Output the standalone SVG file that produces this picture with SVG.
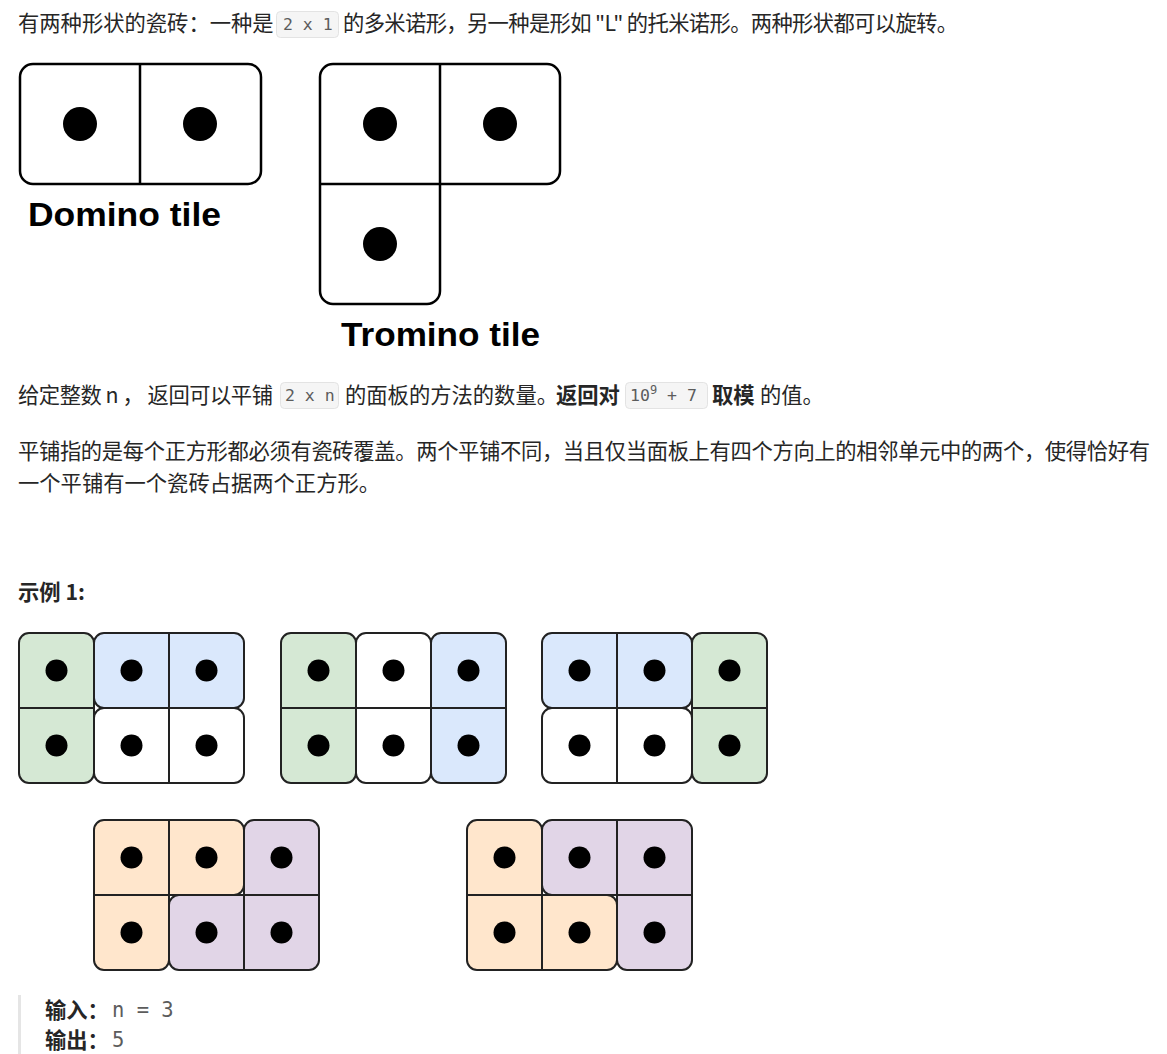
<svg xmlns="http://www.w3.org/2000/svg" width="1167" height="1054" viewBox="0 0 1167 1054">
<style>
.t{font-family:"Noto Sans CJK SC","Liberation Sans",sans-serif;font-size:21.3px;fill:#262626}
.b{font-weight:bold}
.code{font-family:"DejaVu Sans Mono","Liberation Mono",monospace;font-size:16.5px;fill:#5c5c5c}
.io{font-family:"DejaVu Sans Mono","Liberation Mono",monospace;font-size:20.5px;fill:#5c5c5c}
.cbox{fill:#f5f5f5;stroke:#e3e3e3;stroke-width:1}
.lbl{font-family:"Liberation Sans",Arial,sans-serif;font-weight:bold;font-size:33px;fill:#000}
.tile{stroke:#000;stroke-width:2.5;stroke-linejoin:round}
.ex{stroke:#222;stroke-width:2;stroke-linejoin:round}
.ln{stroke:#000;stroke-width:2.5;fill:none}
.exl{stroke:#222;stroke-width:2;fill:none}
.g{fill:#d5e8d4}.bl{fill:#dae8fc}.w{fill:#fff}.o{fill:#ffe6cc}.p{fill:#e1d5e7}
</style>
<defs>
<circle id="d" r="17" fill="#000"/>
<circle id="s" r="11" fill="#000"/>
</defs>
<rect width="1167" height="1054" fill="#fff"/>

<!-- line 1 -->
<g id="line1">
<text class="t" x="18" y="31">有两种形状的瓷砖：一种是</text>
<rect class="cbox" x="276.5" y="11.5" width="62" height="26" rx="4"/>
<text class="code" x="283" y="30">2 x 1</text>
<text class="t" x="343" y="31" textLength="615" lengthAdjust="spacing">的多米诺形，另一种是形如 "L" 的托米诺形。两种形状都可以旋转。</text>
</g>

<!-- domino -->
<g id="domino">
<rect class="tile" x="20" y="64" width="241" height="120" rx="13" fill="#fff"/>
<line class="ln" x1="140" y1="64" x2="140" y2="184"/>
<use href="#d" x="80" y="124"/>
<use href="#d" x="200" y="124"/>
<text class="lbl" x="28" y="226" textLength="193" lengthAdjust="spacingAndGlyphs">Domino tile</text>
</g>

<!-- tromino -->
<g id="tromino">
<path class="tile" fill="#fff" d="M333,64 H547 A13,13 0 0 1 560,77 V171 A13,13 0 0 1 547,184 H440 V291 A13,13 0 0 1 427,304 H333 A13,13 0 0 1 320,291 V77 A13,13 0 0 1 333,64 Z"/>
<line class="ln" x1="440" y1="64" x2="440" y2="184"/>
<line class="ln" x1="320" y1="184" x2="440" y2="184"/>
<use href="#d" x="380" y="124"/>
<use href="#d" x="500" y="124"/>
<use href="#d" x="380" y="244"/>
<text class="lbl" x="341" y="346" textLength="199" lengthAdjust="spacingAndGlyphs">Tromino tile</text>
</g>

<!-- line 2 -->
<g id="line2">
<text class="t" x="18" y="403" textLength="255" lengthAdjust="spacing">给定整数 n ， 返回可以平铺</text>
<rect class="cbox" x="280.5" y="382.5" width="58" height="26" rx="4"/>
<text class="code" x="285" y="401">2 x n</text>
<text class="t" x="345" y="403">的面板的方法的数量。</text>
<text class="t b" x="556" y="403">返回对</text>
<rect class="cbox" x="625.5" y="382.5" width="82" height="26" rx="4"/>
<text class="code" x="630" y="401">10<tspan font-size="12" dy="-7">9</tspan><tspan dy="7"> + 7</tspan></text>
<text class="t b" x="712" y="403">取模</text>
<text class="t" x="760" y="403">的值。</text>
</g>

<!-- paragraph -->
<g id="para">
<text class="t" x="18" y="459" textLength="1132" lengthAdjust="spacing">平铺指的是每个正方形都必须有瓷砖覆盖。两个平铺不同，当且仅当面板上有四个方向上的相邻单元中的两个，使得恰好有</text>
<text class="t" x="18" y="491">一个平铺有一个瓷砖占据两个正方形。</text>
</g>

<text class="t b" x="18" y="600" id="example-title">示例 1:</text>

<!-- example group 1 -->
<g id="ex1">
<rect class="ex g" x="19" y="633" width="75" height="150" rx="10"/>
<line class="exl" x1="19" y1="708" x2="94" y2="708"/>
<rect class="ex bl" x="94" y="633" width="150" height="75" rx="10"/>
<line class="exl" x1="169" y1="633" x2="169" y2="708"/>
<rect class="ex w" x="94" y="708" width="150" height="75" rx="10"/>
<line class="exl" x1="169" y1="708" x2="169" y2="783"/>
<use href="#s" x="56.5" y="670.5"/><use href="#s" x="131.5" y="670.5"/><use href="#s" x="206.5" y="670.5"/>
<use href="#s" x="56.5" y="745.5"/><use href="#s" x="131.5" y="745.5"/><use href="#s" x="206.5" y="745.5"/>
</g>

<!-- example group 2 -->
<g id="ex2">
<rect class="ex g" x="281" y="633" width="75" height="150" rx="10"/>
<line class="exl" x1="281" y1="708" x2="356" y2="708"/>
<rect class="ex w" x="356" y="633" width="75" height="150" rx="10"/>
<line class="exl" x1="356" y1="708" x2="431" y2="708"/>
<rect class="ex bl" x="431" y="633" width="75" height="150" rx="10"/>
<line class="exl" x1="431" y1="708" x2="506" y2="708"/>
<use href="#s" x="318.5" y="670.5"/><use href="#s" x="393.5" y="670.5"/><use href="#s" x="468.5" y="670.5"/>
<use href="#s" x="318.5" y="745.5"/><use href="#s" x="393.5" y="745.5"/><use href="#s" x="468.5" y="745.5"/>
</g>

<!-- example group 3 -->
<g id="ex3">
<rect class="ex bl" x="542" y="633" width="150" height="75" rx="10"/>
<line class="exl" x1="617" y1="633" x2="617" y2="708"/>
<rect class="ex w" x="542" y="708" width="150" height="75" rx="10"/>
<line class="exl" x1="617" y1="708" x2="617" y2="783"/>
<rect class="ex g" x="692" y="633" width="75" height="150" rx="10"/>
<line class="exl" x1="692" y1="708" x2="767" y2="708"/>
<use href="#s" x="579.5" y="670.5"/><use href="#s" x="654.5" y="670.5"/><use href="#s" x="729.5" y="670.5"/>
<use href="#s" x="579.5" y="745.5"/><use href="#s" x="654.5" y="745.5"/><use href="#s" x="729.5" y="745.5"/>
</g>

<!-- example group 4 -->
<g id="ex4">
<path class="ex o" d="M104,820 H234 A10,10 0 0 1 244,830 V885 A10,10 0 0 1 234,895 H169 V960 A10,10 0 0 1 159,970 H104 A10,10 0 0 1 94,960 V830 A10,10 0 0 1 104,820 Z"/>
<line class="exl" x1="169" y1="820" x2="169" y2="895"/>
<line class="exl" x1="94" y1="895" x2="169" y2="895"/>
<path class="ex p" d="M254,820 H309 A10,10 0 0 1 319,830 V960 A10,10 0 0 1 309,970 H179 A10,10 0 0 1 169,960 V905 A10,10 0 0 1 179,895 H244 V830 A10,10 0 0 1 254,820 Z"/>
<line class="exl" x1="244" y1="895" x2="244" y2="970"/>
<line class="exl" x1="244" y1="895" x2="319" y2="895"/>
<use href="#s" x="131.5" y="857.5"/><use href="#s" x="206.5" y="857.5"/><use href="#s" x="281.5" y="857.5"/>
<use href="#s" x="131.5" y="932.5"/><use href="#s" x="206.5" y="932.5"/><use href="#s" x="281.5" y="932.5"/>
</g>

<!-- example group 5 -->
<g id="ex5">
<path class="ex o" d="M477,820 H532 A10,10 0 0 1 542,830 V895 H607 A10,10 0 0 1 617,905 V960 A10,10 0 0 1 607,970 H477 A10,10 0 0 1 467,960 V830 A10,10 0 0 1 477,820 Z"/>
<line class="exl" x1="467" y1="895" x2="542" y2="895"/>
<line class="exl" x1="542" y1="895" x2="542" y2="970"/>
<path class="ex p" d="M552,820 H682 A10,10 0 0 1 692,830 V960 A10,10 0 0 1 682,970 H627 A10,10 0 0 1 617,960 V895 H552 A10,10 0 0 1 542,885 V830 A10,10 0 0 1 552,820 Z"/>
<line class="exl" x1="617" y1="820" x2="617" y2="895"/>
<line class="exl" x1="617" y1="895" x2="692" y2="895"/>
<use href="#s" x="504.5" y="857.5"/><use href="#s" x="579.5" y="857.5"/><use href="#s" x="654.5" y="857.5"/>
<use href="#s" x="504.5" y="932.5"/><use href="#s" x="579.5" y="932.5"/><use href="#s" x="654.5" y="932.5"/>
</g>

<!-- input / output -->
<g id="io">
<rect x="18" y="995" width="3" height="59" fill="#e5e5e5"/>
<text class="t b" x="45" y="1018">输入：</text>
<text class="io" x="112" y="1017">n = 3</text>
<text class="t b" x="45" y="1048">输出：</text>
<text class="io" x="112" y="1047">5</text>
</g>
</svg>
